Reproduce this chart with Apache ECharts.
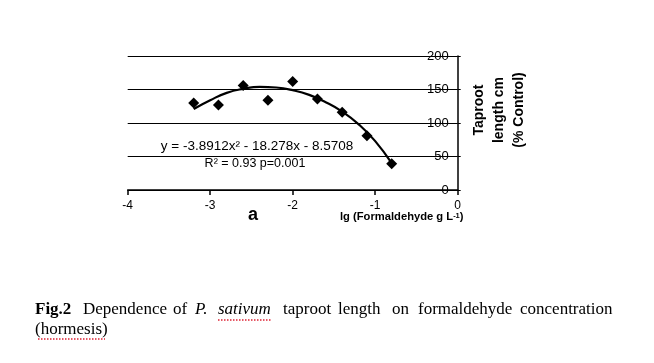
<!DOCTYPE html>
<html>
<head>
<meta charset="utf-8">
<script src="https://cdn.jsdelivr.net/npm/echarts@6/dist/echarts.min.js"></script>
<style>
html,body{margin:0;padding:0;background:#fff;}
#chart{width:654px;height:363px;}
</style>
</head>
<body>
<div id="chart"></div>
<script>
// Data points (lg formaldehyde g/L vs taproot length % control)
const xValues = [-3.2, -2.9, -2.6, -2.3, -2.0, -1.7, -1.4, -1.1, -0.8];
const yValues = [130, 127, 156, 134, 162, 136, 116, 81, 39];
// Trendline
const trendX = [-3.2, -3.0, -2.8, -2.6, -2.4, -2.2, -2.0, -1.8, -1.6, -1.4, -1.2, -1.0, -0.8];
const trendY = [121, 134, 145, 151, 154, 153, 149, 142, 131, 117, 98, 73, 40];
// Axis ticks
const xTicks = [-4, -3, -2, -1, 0];
const yTicks = [0, 50, 100, 150, 200];

const points = xValues.map((x, i) => [x, yValues[i]]);
const trend = trendX.map((x, i) => [x, trendY[i]]);

const chart = echarts.init(document.getElementById('chart'), null, {renderer: 'canvas'});
const sans = '"Liberation Sans", Arial, Helvetica, sans-serif';
const serif = '"Liberation Serif", "Times New Roman", serif';

function word(text, x, y, extra) {
  return {
    type: 'text', silent: true,
    style: Object.assign({
      text: text, x: x, y: y, fill: '#000',
      font: '17px ' + serif,
      align: 'left', verticalAlign: 'middle',
      textAlign: 'left', textVerticalAlign: 'middle'
    }, extra || {})
  };
}

const option = {
  backgroundColor: '#fff',
  animation: false,
  grid: {left: 127.7, right: 196.3, top: 56, bottom: 173, containLabel: false},
  xAxis: {
    type: 'value',
    min: xTicks[0], max: xTicks[xTicks.length - 1], interval: 1,
    axisLine: {show: true, onZero: false, lineStyle: {color: '#000', width: 1.5}},
    axisTick: {show: true, inside: false, length: 5, lineStyle: {color: '#000', width: 1.5}},
    axisLabel: {color: '#000', fontSize: 12, fontFamily: sans, margin: 10},
    splitLine: {show: false}
  },
  yAxis: {
    type: 'value', position: 'right',
    min: yTicks[0], max: yTicks[yTicks.length - 1], interval: 50,
    axisLine: {show: true, lineStyle: {color: '#000', width: 1.5}},
    axisTick: {show: true, inside: false, length: 3, lineStyle: {color: '#000', width: 1}},
    axisLabel: {inside: true, color: '#000', fontSize: 13, fontFamily: sans, margin: 9},
    splitLine: {show: true, lineStyle: {color: '#000', width: 1}}
  },
  series: [
    {
      type: 'line', data: trend, smooth: true, showSymbol: false, symbol: 'none',
      lineStyle: {color: '#000', width: 2.2}, z: 3
    },
    {
      type: 'scatter', data: points, symbol: 'diamond', symbolSize: 11,
      itemStyle: {color: '#000', opacity: 1}, z: 4
    }
  ],
  graphic: [
    {
      type: 'text', silent: true,
      style: {
        text: 'y = -3.8912x² - 18.278x - 8.5708', x: 257, y: 146,
        font: '13.5px ' + sans, fill: '#000',
        align: 'center', verticalAlign: 'middle', textAlign: 'center', textVerticalAlign: 'middle'
      }
    },
    {
      type: 'text', silent: true,
      style: {
        text: 'R² = 0.93 p=0.001', x: 255, y: 164,
        font: '12.5px ' + sans, fill: '#000',
        align: 'center', verticalAlign: 'middle', textAlign: 'center', textVerticalAlign: 'middle'
      }
    },
    {
      type: 'text', silent: true,
      style: {
        text: 'a', x: 253, y: 215,
        font: 'bold 18px ' + sans, fill: '#000',
        align: 'center', verticalAlign: 'middle', textAlign: 'center', textVerticalAlign: 'middle'
      }
    },
    {
      type: 'text', silent: true,
      style: {
        text: '{m|lg (Formaldehyde g L}{s|-1}{m|)}', x: 340, y: 217,
        fill: '#000',
        align: 'left', verticalAlign: 'middle', textAlign: 'left', textVerticalAlign: 'middle',
        rich: {
          m: {font: 'bold 11.2px ' + sans, fill: '#000'},
          s: {font: 'bold 7.5px ' + sans, fill: '#000', verticalAlign: 'top', padding: [0, 0, 3, 0]}
        }
      }
    },
    {
      type: 'text', silent: true, x: 499, y: 110, rotation: Math.PI / 2,
      style: {
        text: 'Taproot\nlength cm\n(% Control)', x: 0, y: 0,
        font: 'bold 14px ' + sans, fill: '#000', lineHeight: 20,
        align: 'center', verticalAlign: 'middle', textAlign: 'center', textVerticalAlign: 'middle'
      }
    },
    word('Fig.2', 35, 310, {font: 'bold 17px ' + serif}),
    word('Dependence', 83, 310),
    word('of', 173, 310),
    word('P.', 195, 310, {font: 'italic 17px ' + serif}),
    word('sativum', 218, 310, {font: 'italic 17px ' + serif}),
    word('taproot', 283, 310),
    word('length', 338, 310),
    word('on', 392, 310),
    word('formaldehyde', 418, 310),
    word('concentration', 520, 310),
    word('(hormesis)', 35, 330),
    {
      type: 'line', silent: true,
      shape: {x1: 218, y1: 320, x2: 272, y2: 320},
      style: {stroke: '#d23', lineWidth: 1.5, lineDash: [1.5, 1.5]}
    },
    {
      type: 'line', silent: true,
      shape: {x1: 38, y1: 339, x2: 105, y2: 339},
      style: {stroke: '#d23', lineWidth: 1.5, lineDash: [1.5, 1.5]}
    }
  ]
};
chart.setOption(option);
</script>
</body>
</html>
